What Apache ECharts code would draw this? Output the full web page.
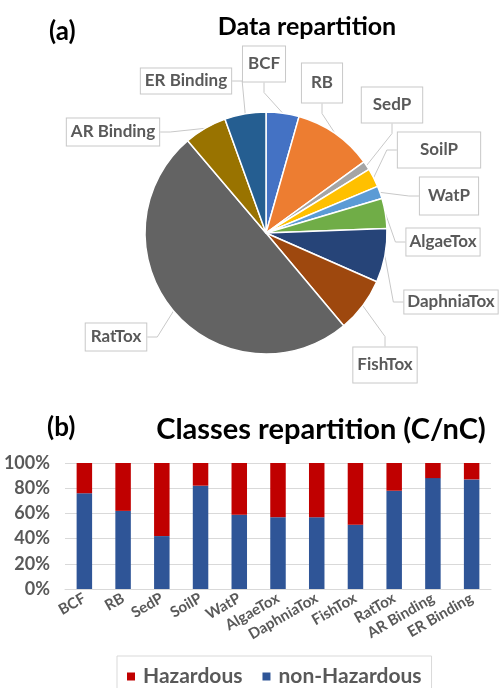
<!DOCTYPE html>
<html>
<head>
<meta charset="utf-8">
<script src="https://cdn.jsdelivr.net/npm/echarts@6/dist/echarts.min.js"></script>
<style>
  html, body { margin: 0; padding: 0; background: #fff; }
  #chart { width: 499px; height: 688px; }
</style>
</head>
<body>
<div id="chart"></div>
<script>
// Endpoints (share of the data set, %)
const endpoints = ['BCF', 'RB', 'SedP', 'SoilP', 'WatP', 'AlgaeTox', 'DaphniaTox', 'FishTox', 'RatTox', 'AR Binding', 'ER Binding'];
const dataShare = [4.4, 10.6, 1.2, 2.5, 1.7, 4.0, 7.2, 7.3, 49.9, 5.7, 5.5];

// Class balance per endpoint (%)
const nonHazardous = [76, 62, 42, 82, 59, 57, 57, 51, 78, 88, 87];
const hazardous = nonHazardous.map(v => 100 - v);

const yTicks = [0, 20, 40, 60, 80, 100];

// Slice colours and callout placement
const sliceColors = ['#4472C4', '#ED7D31', '#A5A5A5', '#FFC000', '#5B9BD5', '#70AD47',
                     '#264478', '#9E480E', '#636363', '#997300', '#255E91'];
const callouts = {
  'BCF':        { x: 264, y: 64,  pad: [9, 5] },
  'RB':         { x: 322, y: 83,  pad: [11, 9] },
  'SedP':       { x: 392, y: 105, pad: [9, 11] },
  'SoilP':      { x: 439, y: 150, pad: [9, 12] },
  'WatP':       { x: 449, y: 196, pad: [10, 8] },
  'AlgaeTox':   { x: 443, y: 242, pad: [5, 3] },
  'DaphniaTox': { x: 451, y: 302, pad: [3, 4] },
  'FishTox':    { x: 385, y: 365, pad: [9, 4] },
  'RatTox':     { x: 116, y: 337, pad: [5, 5] },
  'AR Binding': { x: 113, y: 132, pad: [5, 4] },
  'ER Binding': { x: 186, y: 81,  pad: [4, 4] }
};

const FONT = 'Lato, "Open Sans", sans-serif';
const GREY_TEXT = '#595959';

const pieData = endpoints.map((name, i) => ({
  name: name,
  value: dataShare[i],
  itemStyle: { color: sliceColors[i] },
  label: { padding: callouts[name].pad }
}));

const chart = echarts.init(document.getElementById('chart'), null, { renderer: 'canvas' });

const titleStyle = size => ({ fontFamily: FONT, fontSize: size, fontWeight: 'bold', color: '#000' });

chart.setOption({
  animation: false,
  textStyle: { fontFamily: FONT },
  title: [
    { text: '(a)', left: 44, top: 14, textStyle: titleStyle(26) },
    { text: 'Data repartition', left: 302, top: 9, textAlign: 'center', textStyle: titleStyle(25) },
    { text: '(b)', left: 42, top: 410, textStyle: titleStyle(26) },
    { text: 'Classes repartition (C/nC)', left: 316, top: 410, textAlign: 'center', textStyle: titleStyle(29) }
  ],
  legend: {
    data: ['Hazardous', 'non-Hazardous'],
    left: 117,
    top: 656,
    width: 330,
    padding: [10, 10, 10, 10],
    borderColor: '#D9D9D9',
    borderWidth: 1,
    icon: 'rect',
    itemWidth: 8,
    itemHeight: 8,
    itemGap: 20,
    textStyle: { fontFamily: FONT, fontSize: 21, color: GREY_TEXT, fontWeight: 'bold', padding: [0, 0, 0, 3] }
  },
  grid: { left: 65, right: 8, top: 463, height: 126, containLabel: false },
  xAxis: {
    type: 'category',
    data: endpoints,
    axisLine: { lineStyle: { color: '#D9D9D9' } },
    axisTick: { show: false },
    axisLabel: { interval: 0, rotate: 30, margin: 8, color: GREY_TEXT, fontFamily: FONT, fontWeight: 'bold', fontSize: 15 }
  },
  yAxis: {
    type: 'value',
    min: yTicks[0],
    max: yTicks[yTicks.length - 1],
    interval: 20,
    axisLine: { show: false },
    axisTick: { show: false },
    splitLine: { lineStyle: { color: '#D9D9D9' } },
    axisLabel: { formatter: '{value}%', margin: 15, color: GREY_TEXT, fontFamily: FONT, fontWeight: 'bold', fontSize: 18 }
  },
  series: [
    {
      type: 'pie',
      center: [266, 233],
      radius: 121,
      startAngle: 90,
      clockwise: true,
      data: pieData,
      itemStyle: { borderColor: '#fff', borderWidth: 1.5 },
      label: {
        show: true,
        position: 'outside',
        formatter: '{b}',
        overflow: 'none',
        color: GREY_TEXT,
        fontFamily: FONT,
        fontWeight: 'bold',
        fontSize: 17,
        backgroundColor: '#fff',
        borderColor: '#C8C8C8',
        borderWidth: 1
      },
      labelLine: { show: true, length: 10, length2: 10, lineStyle: { color: '#C8C8C8', width: 1 } },
      labelLayout: function (params) {
        const c = callouts[endpoints[params.dataIndex]];
        return { x: c.x, y: c.y, align: 'center', verticalAlign: 'middle' };
      }
    },
    {
      name: 'non-Hazardous',
      type: 'bar',
      stack: 'classes',
      data: nonHazardous,
      barWidth: '40%',
      itemStyle: { color: '#2F5597' }
    },
    {
      name: 'Hazardous',
      type: 'bar',
      stack: 'classes',
      data: hazardous,
      barWidth: '40%',
      itemStyle: { color: '#C00000' }
    }
  ]
});
</script>
</body>
</html>
